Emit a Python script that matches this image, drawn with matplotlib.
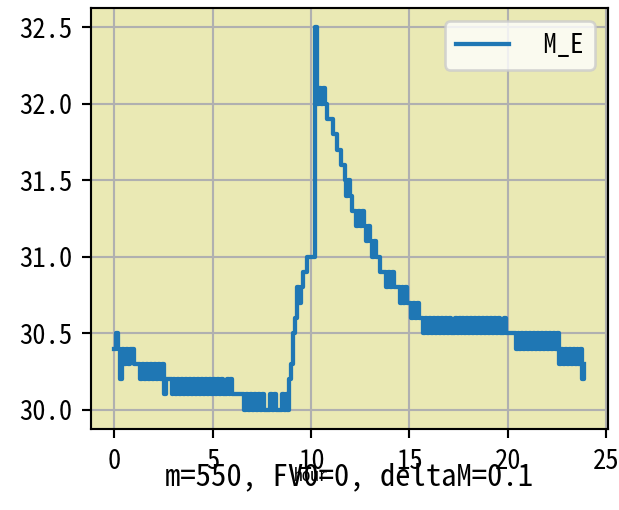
import numpy as np
import matplotlib
matplotlib.use('Agg')
import matplotlib.pyplot as plt

# 図のサイズ(px)と解像度
FIG_W_PX = 619
FIG_H_PX = 510
DPI      = 192

# 0.1時間ごとのサンプル値 (1行 = 1時間, 読み取り値)
M_E_ROWS = [
    [30.4, 30.5, 30.4, 30.2, 30.4, 30.3, 30.4, 30.3, 30.4, 30.4],  # 0h
    [30.3, 30.3, 30.3, 30.2, 30.3, 30.2, 30.3, 30.2, 30.3, 30.2],  # 1h
    [30.3, 30.2, 30.3, 30.2, 30.3, 30.1, 30.2, 30.2, 30.2, 30.1],  # 2h
    [30.2, 30.1, 30.2, 30.1, 30.2, 30.1, 30.2, 30.1, 30.2, 30.1],  # 3h
    [30.2, 30.1, 30.2, 30.1, 30.2, 30.1, 30.2, 30.1, 30.2, 30.1],  # 4h
    [30.2, 30.1, 30.2, 30.1, 30.2, 30.1, 30.1, 30.2, 30.1, 30.2],  # 5h
    [30.1, 30.1, 30.1, 30.1, 30.1, 30.1, 30.0, 30.1, 30.0, 30.1],  # 6h
    [30.0, 30.1, 30.0, 30.1, 30.0, 30.1, 30.0, 30.0, 30.0, 30.1],  # 7h
    [30.0, 30.1, 30.0, 30.0, 30.0, 30.1, 30.0, 30.1, 30.0, 30.2],  # 8h
    [30.3, 30.5, 30.6, 30.8, 30.7, 30.8, 30.9, 30.9, 31.0, 31.0],  # 9h
    [31.0, 31.0, 32.5, 32.0, 32.1, 32.0, 32.1, 32.0, 31.9, 31.9],  # 10h
    [31.9, 31.8, 31.8, 31.7, 31.7, 31.6, 31.6, 31.5, 31.4, 31.5],  # 11h
    [31.4, 31.3, 31.3, 31.2, 31.3, 31.2, 31.3, 31.2, 31.1, 31.2],  # 12h
    [31.1, 31.0, 31.1, 31.0, 31.0, 30.9, 30.9, 30.9, 30.8, 30.9],  # 13h
    [30.8, 30.9, 30.8, 30.8, 30.8, 30.7, 30.8, 30.7, 30.8, 30.7],  # 14h
    [30.7, 30.6, 30.7, 30.6, 30.7, 30.6, 30.6, 30.5, 30.6, 30.5],  # 15h
    [30.6, 30.5, 30.6, 30.5, 30.6, 30.5, 30.6, 30.5, 30.6, 30.5],  # 16h
    [30.6, 30.5, 30.5, 30.6, 30.5, 30.6, 30.5, 30.6, 30.5, 30.6],  # 17h
    [30.5, 30.6, 30.5, 30.6, 30.5, 30.6, 30.5, 30.6, 30.5, 30.6],  # 18h
    [30.5, 30.6, 30.5, 30.6, 30.5, 30.6, 30.5, 30.5, 30.6, 30.5],  # 19h
    [30.5, 30.5, 30.5, 30.5, 30.4, 30.5, 30.4, 30.5, 30.4, 30.5],  # 20h
    [30.4, 30.5, 30.4, 30.5, 30.4, 30.5, 30.4, 30.5, 30.4, 30.5],  # 21h
    [30.4, 30.5, 30.4, 30.5, 30.4, 30.5, 30.3, 30.4, 30.3, 30.4],  # 22h
    [30.3, 30.4, 30.3, 30.4, 30.3, 30.4, 30.3, 30.4, 30.2, 30.3],  # 23h
]

# サンプリング間隔 [hour]
STEP_HOUR = 0.1

# 条件の注記
PARAM_TEXT = 'm=550, FV0=0, deltaM=0.1'
LEGEND_LABEL = ' M_E'

plt.rcParams['font.family'] = ['Noto Sans Mono CJK SC', 'Noto Sans CJK SC', 'DejaVu Sans']
# 細かい上下動が間引かれないように
plt.rcParams['path.simplify'] = False


def plot_me():
    """
    @brief:
      M_Eの時系列を図化します
    """
    m_e = np.array(M_E_ROWS, dtype=np.float64).ravel()
    hour = np.arange(len(m_e)) * STEP_HOUR

    fig = plt.figure(figsize=(FIG_W_PX / DPI, FIG_H_PX / DPI), dpi=DPI)
    ax = fig.add_axes([0.147, 0.159, 0.835, 0.825])
    ax.set_facecolor('#eae9b4')

    # 0.1刻みの値なので階段状に描く
    ax.plot(hour, m_e, color='#1f77b4', linewidth=1.6, drawstyle='steps-post',
            label=LEGEND_LABEL)

    ax.grid(True)
    ax.legend(loc='upper right')

    # 軸ラベル(小さめ)と注記
    fig.text(0.502, 0.057, 'hour', fontsize=6.5, ha='center', va='baseline')
    ax.text(0.5, -0.133, PARAM_TEXT, fontsize=11.5, ha='center', va='baseline',
            transform=ax.transAxes)

    fig.savefig('out.png', dpi=DPI)


if __name__ == '__main__':
    plot_me()
